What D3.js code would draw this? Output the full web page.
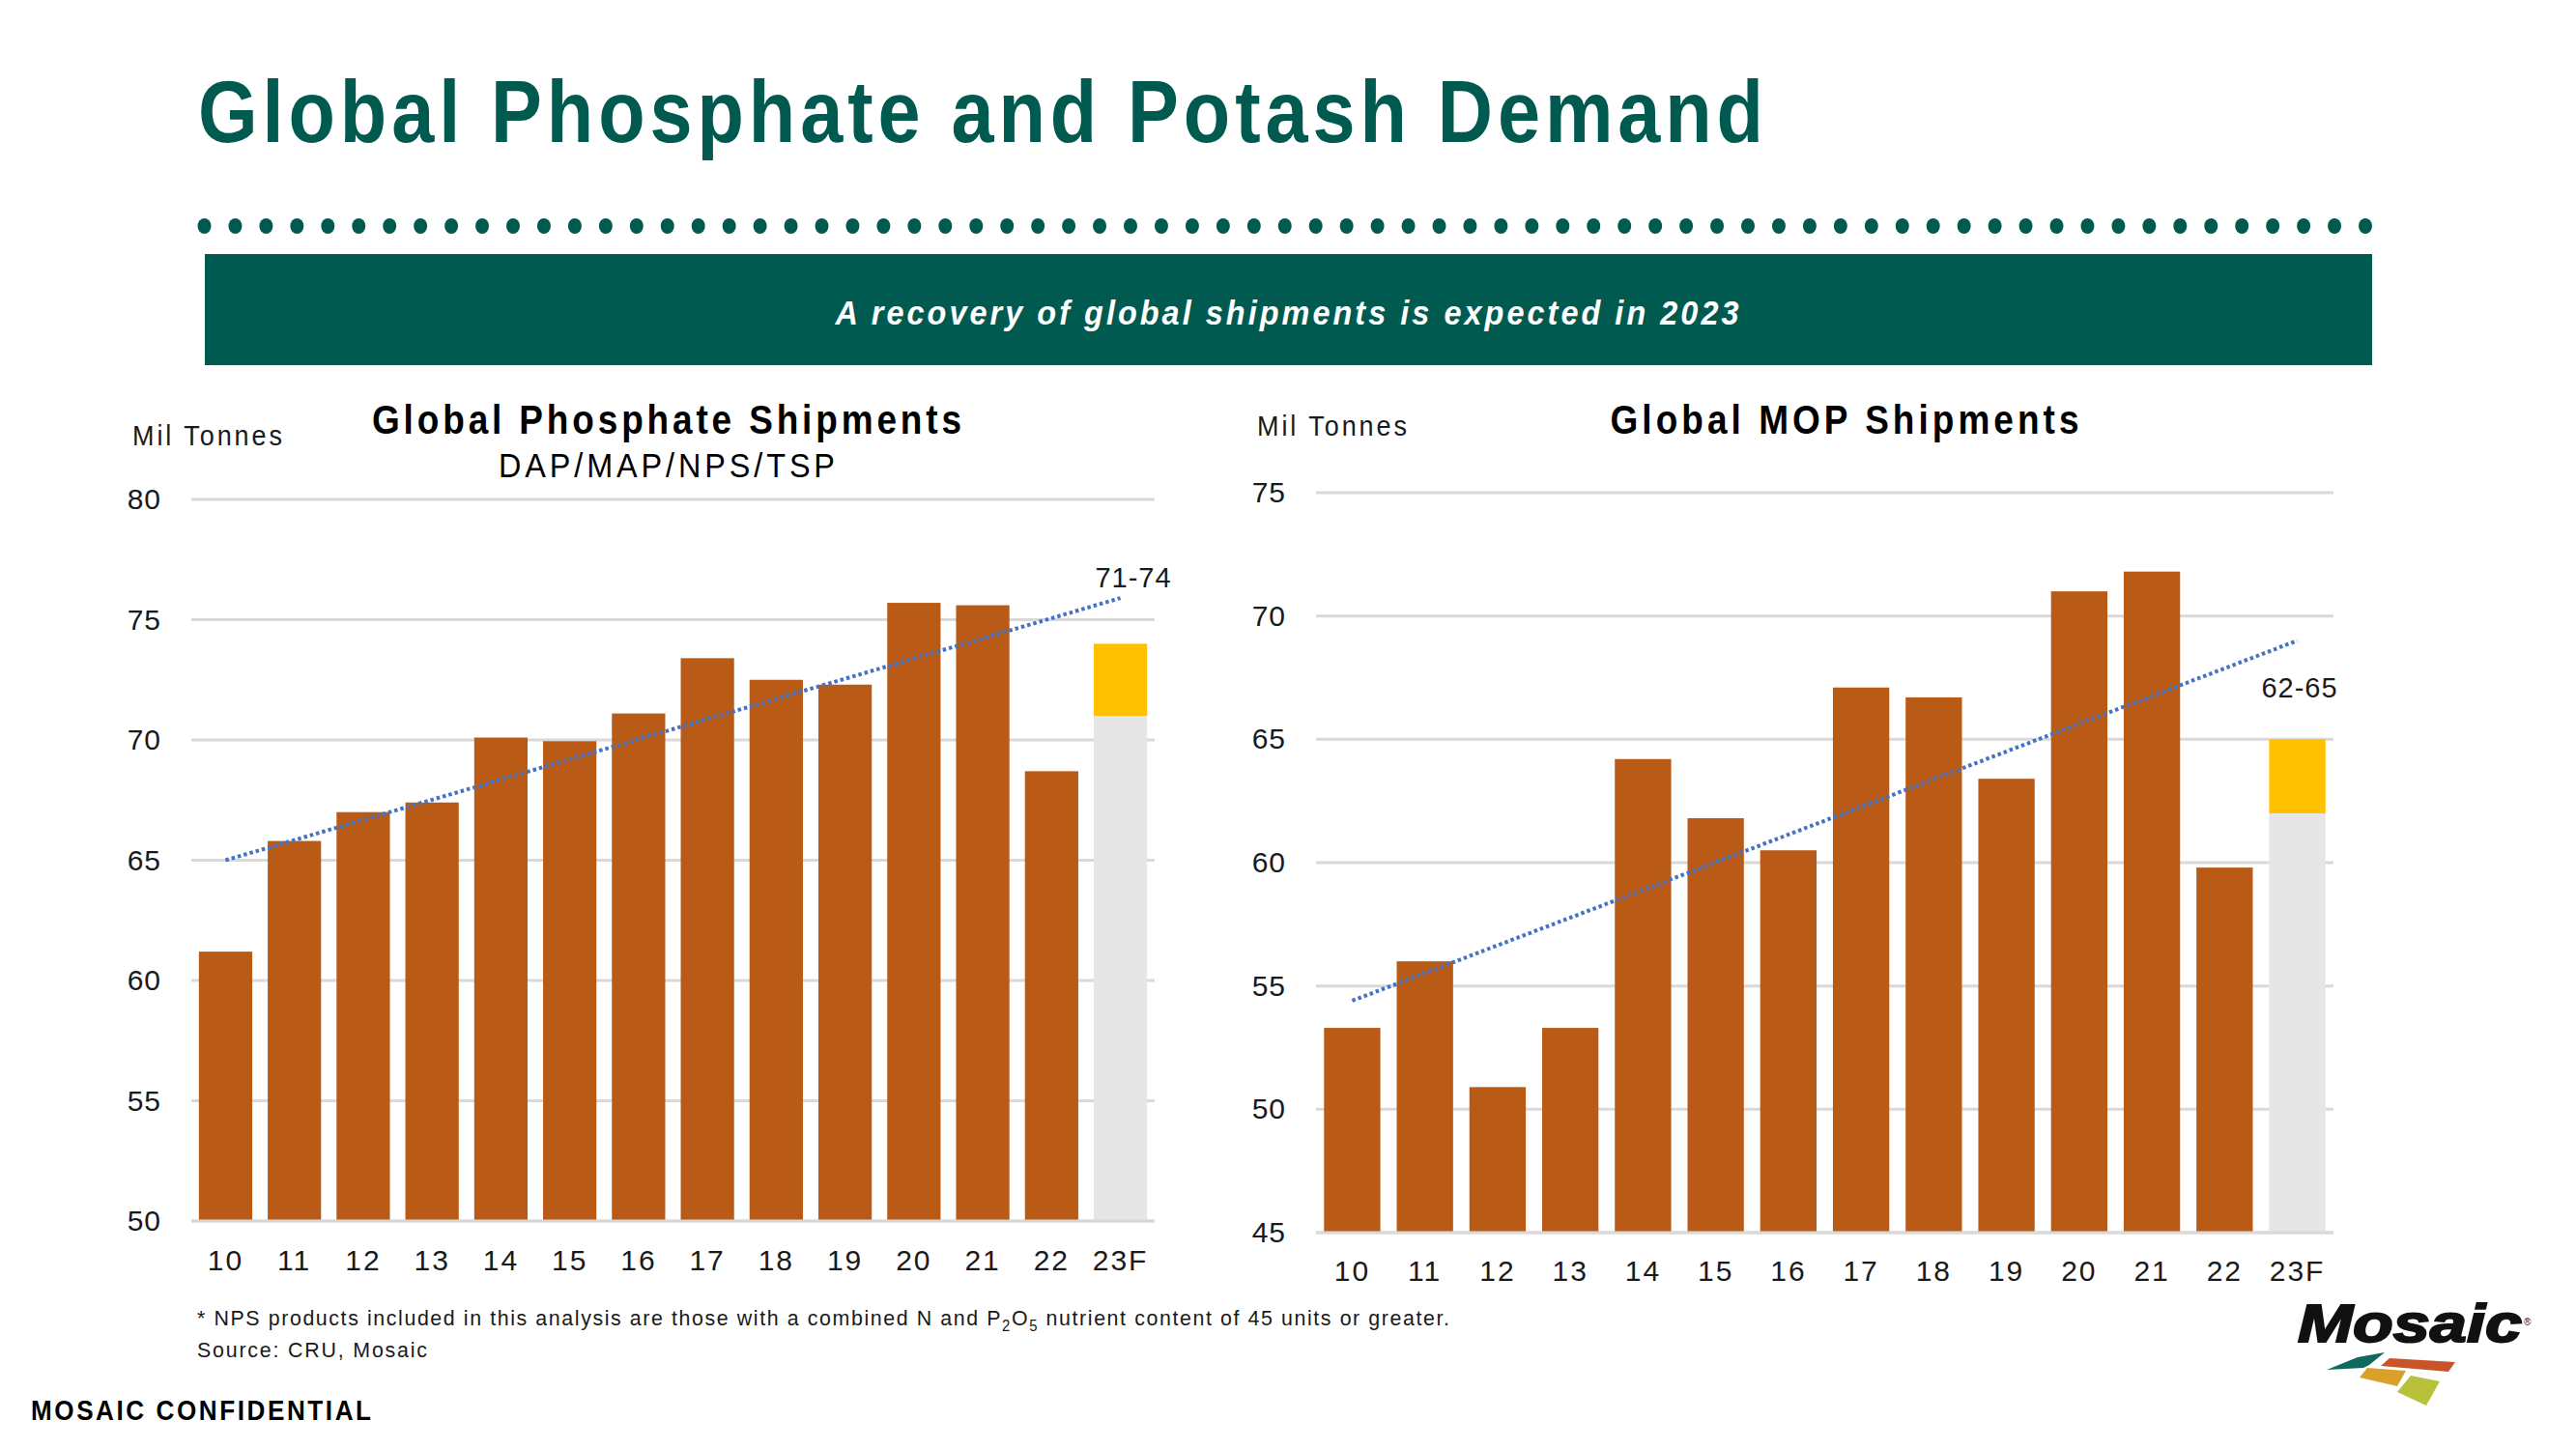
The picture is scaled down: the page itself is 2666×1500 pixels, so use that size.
<!DOCTYPE html>
<html>
<head>
<meta charset="utf-8">
<script src="https://cdn.jsdelivr.net/npm/d3@7"></script>
<style>
  html, body { margin: 0; padding: 0; background: #ffffff; }
  svg { display: block; }
  text { font-family: "Liberation Sans", Arial, sans-serif; }
</style>
</head>
<body>
<svg id="chart" width="2666" height="1500"></svg>
<script>
// ---------------- DATA ----------------
const categories = ["10","11","12","13","14","15","16","17","18","19","20","21","22","23F"];
const phosphateValues = [61.2, 65.8, 67.0, 67.4, 70.1, 69.95, 71.1, 73.4, 72.5, 72.3, 75.7, 75.6, 68.7];
const phosphateForecast = [71, 74];
const phosphateTrend = [65.0, 75.9];
const phosphateTicks = [50, 55, 60, 65, 70, 75, 80];

const mopValues = [53.3, 56.0, 50.9, 53.3, 64.2, 61.8, 60.5, 67.1, 66.7, 63.4, 71.0, 71.8, 59.8];
const mopForecast = [62, 65];
const mopTrend = [54.4, 69.0];
const mopTicks = [45, 50, 55, 60, 65, 70, 75];

// ---------------- STYLE ----------------
const TEAL = "#005A50";
const BAR = "#B95A17";
const YELLOW = "#FFC000";
const GREY = "#E6E6E6";
const GRID = "#D9D9D9";
const TREND = "#4472C4";
const TXT = "#1a1a1a";

const svg = d3.select("#chart");
svg.append("rect").attr("width", 2666).attr("height", 1500).attr("fill", "#fff");

// condensed + letter-spaced text helper
function spaced(parent, x, y, anchor, width, s, attrs, str) {
  const g = parent.append("g").attr("transform", `translate(${x},${y}) scale(${s},1)`);
  const t = g.append("text").attr("x", 0).attr("y", 0).attr("text-anchor", anchor)
    .attr("textLength", width / s).attr("lengthAdjust", "spacing");
  Object.entries(attrs).forEach(([k, v]) => t.attr(k, v));
  t.text(str);
  return t;
}

// Title
spaced(svg, 205, 147, "start", 1620, 0.88,
  { "font-size": 90, "font-weight": "bold", fill: TEAL },
  "Global Phosphate and Potash Demand");

// Dotted separator
const dotIdx = d3.range(71);
const dotX = d3.scaleLinear().domain([0, 70]).range([211.5, 2448]);
svg.append("g").selectAll("ellipse").data(dotIdx).join("ellipse")
  .attr("cx", d => dotX(d)).attr("cy", 234).attr("rx", 7).attr("ry", 8)
  .attr("fill", TEAL);

// Banner
svg.append("rect").attr("x", 212).attr("y", 263).attr("width", 2243).attr("height", 115).attr("fill", TEAL);
spaced(svg, 1332, 336, "middle", 935, 0.9,
  { "font-size": 36, "font-weight": "bold", "font-style": "italic", fill: "#fff" },
  "A recovery of global shipments is expected in 2023");

// ---------------- PANELS ----------------
function panel(cfg) {
  const g = svg.append("g");
  const x = d3.scaleBand().domain(categories).range(cfg.xRange).paddingInner(0.225).paddingOuter(0.11);
  const y = d3.scaleLinear().domain(cfg.yDomain).range(cfg.yRange);

  // gridlines
  g.append("g").selectAll("line").data(cfg.ticks).join("line")
    .attr("x1", cfg.xRange[0]).attr("x2", cfg.xRange[1])
    .attr("y1", d => y(d)).attr("y2", d => y(d))
    .attr("stroke", GRID).attr("stroke-width", 3);

  // y axis labels via d3 axis
  const yAxis = d3.axisLeft(y).tickValues(cfg.ticks).tickSize(0).tickPadding(0);
  const ya = g.append("g").attr("transform", `translate(${cfg.yLabelX},0)`).call(yAxis);
  ya.select(".domain").remove();
  ya.selectAll("text").attr("font-size", 30).attr("fill", TXT)
    .attr("font-family", "Liberation Sans, Arial, sans-serif").attr("letter-spacing", 1);

  // x axis labels
  const xAxis = d3.axisBottom(x).tickSize(0).tickPadding(0);
  const xa = g.append("g").attr("transform", `translate(0,${cfg.xLabelY})`).call(xAxis);
  xa.select(".domain").remove();
  xa.selectAll("text").attr("font-size", 30).attr("fill", TXT).attr("dy", 0)
    .attr("font-family", "Liberation Sans, Arial, sans-serif").attr("letter-spacing", 2);

  // historical bars
  const hist = cfg.values.map((v, i) => ({ c: categories[i], v }));
  g.append("g").selectAll("rect").data(hist).join("rect")
    .attr("x", d => x(d.c)).attr("width", x.bandwidth())
    .attr("y", d => y(d.v)).attr("height", d => y(cfg.yDomain[0]) - y(d.v))
    .attr("fill", BAR);

  // forecast stacked bar
  const fc = categories[categories.length - 1];
  g.append("rect").attr("x", x(fc)).attr("width", x.bandwidth())
    .attr("y", y(cfg.forecast[0])).attr("height", y(cfg.yDomain[0]) - y(cfg.forecast[0]))
    .attr("fill", GREY);
  g.append("rect").attr("x", x(fc)).attr("width", x.bandwidth())
    .attr("y", y(cfg.forecast[1])).attr("height", y(cfg.forecast[0]) - y(cfg.forecast[1]))
    .attr("fill", YELLOW);

  // baseline gridline on top
  g.append("line").attr("x1", cfg.xRange[0]).attr("x2", cfg.xRange[1])
    .attr("y1", y(cfg.yDomain[0])).attr("y2", y(cfg.yDomain[0]))
    .attr("stroke", GRID).attr("stroke-width", 3);

  // trend line
  const c0 = categories[0], c1 = fc;
  g.append("path")
    .datum([[c0, cfg.trend[0]], [c1, cfg.trend[1]]])
    .attr("d", d3.line().x(d => x(d[0]) + x.bandwidth() / 2).y(d => y(d[1])))
    .attr("fill", "none").attr("stroke", TREND).attr("stroke-width", 4)
    .attr("stroke-dasharray", "3.5 3");

  // forecast label
  g.append("text").attr("x", cfg.fLabel[0]).attr("y", cfg.fLabel[1]).attr("text-anchor", "middle")
    .attr("font-size", 29).attr("fill", TXT).attr("letter-spacing", 1)
    .text(cfg.forecast[0] + "-" + cfg.forecast[1]);

  // unit label
  spaced(g, cfg.unit[0], cfg.unit[1], "start", 155, 0.9,
    { "font-size": 30, fill: TXT }, "Mil Tonnes");

  // title
  spaced(g, cfg.titleX, 449, "middle", cfg.titleW, 0.88,
    { "font-size": 42, "font-weight": "bold", fill: "#000" }, cfg.title);
  if (cfg.subtitle) {
    spaced(g, cfg.titleX, 494, "middle", 348, 0.9,
      { "font-size": 36, fill: "#000" }, cfg.subtitle);
  }
}

panel({
  values: phosphateValues, forecast: phosphateForecast, trend: phosphateTrend, ticks: phosphateTicks,
  xRange: [198, 1195], yDomain: [50, 80], yRange: [1264, 517],
  yLabelX: 167, xLabelY: 1315,
  fLabel: [1173, 608], unit: [137, 461],
  titleX: 690, titleW: 610, title: "Global Phosphate Shipments", subtitle: "DAP/MAP/NPS/TSP"
});

panel({
  values: mopValues, forecast: mopForecast, trend: mopTrend, ticks: mopTicks,
  xRange: [1362, 2415], yDomain: [45, 75], yRange: [1276, 510],
  yLabelX: 1331, xLabelY: 1326,
  fLabel: [2380, 722], unit: [1301, 451],
  titleX: 1909, titleW: 485, title: "Global MOP Shipments", subtitle: null
});

// ---------------- FOOTNOTES ----------------
const fnG = svg.append("g").attr("transform", "translate(204,1372) scale(0.93,1)");
const fn = fnG.append("text").attr("x", 0).attr("y", 0).attr("font-size", 23).attr("fill", TXT)
  .attr("textLength", 1296 / 0.93).attr("lengthAdjust", "spacing");
fn.append("tspan").text("* NPS products included in this analysis are those with a combined N and P");
fn.append("tspan").attr("font-size", 16).attr("dy", 6).text("2");
fn.append("tspan").attr("dy", -6).text("O");
fn.append("tspan").attr("font-size", 16).attr("dy", 6).text("5");
fn.append("tspan").attr("dy", -6).text(" nutrient content of 45 units or greater.");

spaced(svg, 204, 1405, "start", 238, 0.93, { "font-size": 23, fill: TXT }, "Source: CRU, Mosaic");

spaced(svg, 32, 1470, "start", 352, 0.9,
  { "font-size": 29, "font-weight": "bold", fill: "#000" }, "MOSAIC CONFIDENTIAL");

// ---------------- LOGO ----------------
const logo = svg.append("g");
logo.append("text").attr("x", 2378).attr("y", 1389).attr("font-size", 56).attr("font-weight", 900)
  .attr("font-style", "italic").attr("fill", "#111")
  .attr("textLength", 232).attr("lengthAdjust", "spacingAndGlyphs")
  .attr("stroke", "#111").attr("stroke-width", 2)
  .text("Mosaic");
logo.append("text").attr("x", 2612).attr("y", 1372).attr("font-size", 10).attr("fill", "#111").text("®");
const tiles = [
  { c: "#0E6A5E", p: [[2408,1418],[2440,1405],[2468,1400],[2452,1413],[2446,1416]] },
  { c: "#C8552A", p: [[2473,1406],[2541,1410],[2534,1420],[2464,1414]] },
  { c: "#D9A02A", p: [[2450,1416],[2490,1419],[2481,1435],[2442,1426]] },
  { c: "#B7C23A", p: [[2495,1424],[2525,1430],[2511,1455],[2481,1441]] }
];
logo.selectAll("polygon").data(tiles).join("polygon")
  .attr("points", d => d.p.map(q => q.join(",")).join(" "))
  .attr("fill", d => d.c);
</script>
</body>
</html>
